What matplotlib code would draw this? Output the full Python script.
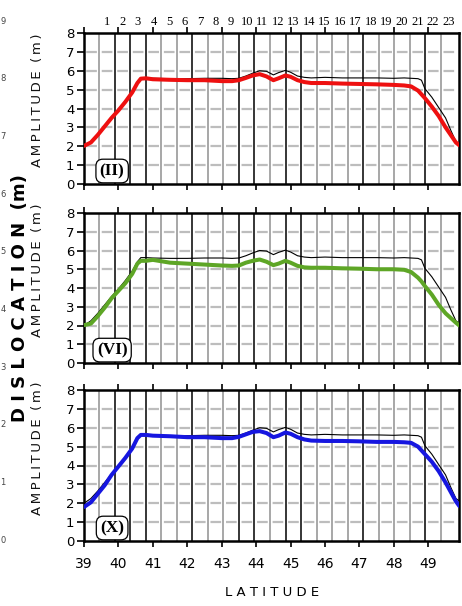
import numpy as np
import matplotlib.pyplot as plt

# latitude samples along the trench
lat = [39.0, 39.2, 39.4, 39.6, 39.8, 40.0, 40.2, 40.4, 40.55, 40.65, 40.8, 41.0,
       41.5, 42.0, 42.5, 43.0, 43.3, 43.5, 43.7, 43.9, 44.1, 44.3, 44.5, 44.65,
       44.85, 45.0, 45.2, 45.4, 45.6, 46.0, 46.5, 47.0, 47.5, 48.0, 48.3, 48.5,
       48.7, 48.8, 48.9, 49.1, 49.3, 49.5, 49.65, 49.8, 49.9]

# reference amplitude (thin black) shown in every panel
amp_ref = [2.0, 2.25, 2.65, 3.1, 3.55, 3.95, 4.4, 4.9, 5.4, 5.62, 5.62, 5.6,
           5.58, 5.58, 5.6, 5.6, 5.58, 5.6, 5.72, 5.87, 6.0, 5.97, 5.78, 5.9,
           6.02, 5.92, 5.72, 5.65, 5.62, 5.65, 5.62, 5.62, 5.62, 5.6, 5.62, 5.6,
           5.58, 5.5, 5.05, 4.6, 4.05, 3.5, 2.85, 2.25, 2.12]

amp_ii = [2.02, 2.2, 2.6, 3.05, 3.5, 3.9, 4.35, 4.85, 5.35, 5.58, 5.6, 5.55,
          5.52, 5.5, 5.5, 5.45, 5.45, 5.5, 5.62, 5.75, 5.82, 5.7, 5.5, 5.6,
          5.75, 5.68, 5.5, 5.4, 5.35, 5.35, 5.32, 5.3, 5.28, 5.25, 5.22, 5.17,
          4.95, 4.75, 4.55, 4.1, 3.6, 3.0, 2.6, 2.2, 2.05]

amp_vi = [2.02, 2.1, 2.5, 2.95, 3.45, 3.85, 4.25, 4.75, 5.3, 5.45, 5.45, 5.5,
          5.35, 5.3, 5.25, 5.2, 5.18, 5.2, 5.35, 5.45, 5.52, 5.4, 5.22, 5.3,
          5.45, 5.35, 5.18, 5.1, 5.08, 5.08, 5.05, 5.03, 5.0, 5.0, 4.97, 4.85,
          4.55, 4.35, 4.1, 3.65, 3.1, 2.65, 2.4, 2.15, 2.0]

amp_x = [1.8, 2.05, 2.5, 2.95, 3.5, 3.95, 4.4, 4.9, 5.45, 5.62, 5.62, 5.58,
         5.55, 5.5, 5.5, 5.45, 5.45, 5.52, 5.65, 5.78, 5.82, 5.72, 5.5, 5.58,
         5.75, 5.68, 5.5, 5.38, 5.32, 5.3, 5.3, 5.28, 5.25, 5.25, 5.23, 5.2,
         5.0, 4.8, 4.6, 4.2, 3.7, 3.1, 2.6, 2.1, 1.85]

panel_names = ["(II)", "(VI)", "(X)"]
panel_amps = [amp_ii, amp_vi, amp_x]
panel_colors = ["#ee1010", "#5ea626", "#1616e0"]

subfaults = [str(i) for i in range(1, 24)]
lat_ticks = list(range(39, 50))
amp_ticks = list(range(0, 9))
edge_numbers = ["9", "8", "7", "6", "5", "4", "3", "2", "1", "0"]

# subfault column edges
col_start, col_width = 39.44, 0.451
edges = col_start + col_width * np.arange(23)
centers = col_start + col_width * (np.arange(1, 24) - 0.5)
dark_edges = {1, 2, 3, 6, 9, 10, 12, 13, 17, 21}

W, H = 462, 606
fig = plt.figure(figsize=(W / 100, H / 100), dpi=100)

# axes boxes in pixels: left, top, right, bottom
boxes = [(84, 33, 459, 184), (84, 213, 459, 363), (84, 390, 459, 541)]
ylabel_y = [100, 270, 448]


def spaced(s, sep="\u2009"):
    return sep.join(s)


for i, (box, name, amp, color) in enumerate(zip(boxes, panel_names, panel_amps, panel_colors)):
    l, t, r, b = box
    ax = fig.add_axes([l / W, 1 - b / H, (r - l) / W, (b - t) / H])
    ax.set_xlim(39.0, 49.89)
    ax.set_ylim(0, 8)

    for k, x in enumerate(edges):
        if k in dark_edges:
            ax.axvline(x, color="black", lw=1.1, zorder=1)
        else:
            ax.axvline(x, color="#8f8f8f", lw=1.1, zorder=1)
    for y in range(1, 8):
        ax.axhline(y, color="#bdbdbd", lw=1.6, zorder=2,
                   linestyle=(6.0, (4.8, 2.19)))

    ax.plot(lat, amp_ref, color="black", lw=0.8, zorder=3)
    ax.plot(lat, amp, color=color, lw=2.9, zorder=4, solid_capstyle="round")

    for sp in ax.spines.values():
        sp.set_linewidth(1.8)

    ax.set_xticks(lat_ticks)
    ax.set_yticks(amp_ticks)
    ax.tick_params(axis="y", direction="out", length=5, width=1.2, pad=2,
                   labelsize=9.5)
    ax.tick_params(axis="x", direction="out", length=4.5, width=1.2,
                   top=True, bottom=True, labelsize=10, pad=7)
    if i < 2:
        ax.tick_params(axis="x", labelbottom=False)

    ax.text(0.075, 0.086, name, transform=ax.transAxes, ha="center", va="center",
            family="Liberation Serif", fontweight="bold", fontsize=12.5, zorder=6,
            bbox=dict(boxstyle="round,pad=0.22,rounding_size=0.4", fc="white",
                      ec="black", lw=0.9))

    fig.text(37.5 / W, 1 - ylabel_y[i] / H, spaced("AMPLITUDE") + "  " + spaced("(m)"),
             rotation=90, ha="center", va="center", fontsize=9.5, color="#111111")

    if i == 0:
        for c, s in zip(centers, subfaults):
            ax.text(c, 8.25, s, ha="center", va="bottom", fontsize=9,
                    family="Liberation Serif", clip_on=False)

fig.text(20 / W, 1 - 298 / H, spaced("DISLOCATION", " ") + "  " + "(m)",
         rotation=90, ha="center", va="center", fontsize=13, fontweight="bold")
fig.text(272 / W, 1 - 593 / H, spaced("LATITUDE", " "), ha="center", va="center",
         fontsize=9.5)

# small scale digits along the left border
for k, s in enumerate(edge_numbers):
    fig.text(0.5 / W, 1 - (21 + 57.7 * k) / H, s, ha="left", va="center",
             fontsize=6, color="#444444")

fig.savefig("out.png", dpi=100)
